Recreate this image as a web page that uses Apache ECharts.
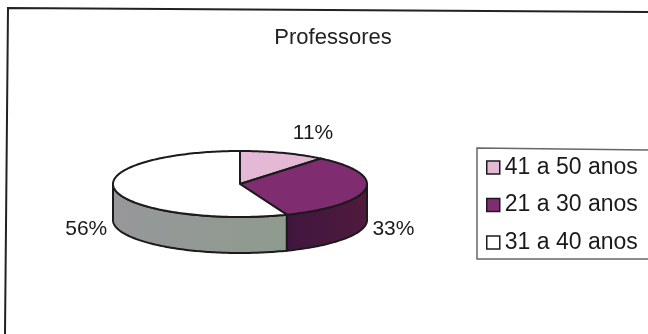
<!DOCTYPE html>
<html><head><meta charset="utf-8">
<style>html,body{margin:0;padding:0;background:#fff}#c{width:648px;height:334px}</style>
<script src="https://cdn.jsdelivr.net/npm/echarts@6/dist/echarts.min.js"></script>
</head><body><div id="c"></div>
<script>
const categories = ['41 a 50 anos', '21 a 30 anos', '31 a 40 anos'];
const values = [11, 33, 56];
const topColors = ['#e3b9d5', '#7f2d70', '#ffffff'];
const sideColors = [
  ['#a88aa0', '#a88aa0'],
  ['#3f1640', '#501a3c'],
  ['#96979a', '#8f9b8e']
];
const labelOffsets = [[30, -20], [28, 40], [-29, 39]];

const chart = echarts.init(document.getElementById('c'), null, {renderer: 'canvas'});
const total = values.reduce((a, b) => a + b, 0);
const CX = 240, CY = 184, RX = 127, RY = 33, DEPTH = 36;
const ink = '#1c1a1c';
const pt = (t, dy) => [CX + RX * Math.sin(t), CY - RY * Math.cos(t) + (dy || 0)];

function arc(a, b, dy) {
  const out = [];
  const n = Math.max(2, Math.ceil((b - a) / 0.02));
  for (let i = 0; i <= n; i++) out.push(pt(a + (b - a) * i / n, dy));
  return out;
}

function makeSeries(idx) {
  const before = values.slice(0, idx).reduce((a, b) => a + b, 0);
  return {
    type: 'custom',
    name: categories[idx],
    coordinateSystem: 'none',
    itemStyle: {color: topColors[idx], borderColor: ink, borderWidth: 1},
    data: [[before, values[idx]]],
    silent: true,
    renderItem: function (params, api) {
      const a = api.value(0) / total * Math.PI * 2;
      const b = a + api.value(1) / total * Math.PI * 2;
      const children = [];
      const sa = Math.max(a, Math.PI / 2), sb = Math.min(b, Math.PI * 1.5);
      if (sb > sa) {
        children.push({
          type: 'polygon',
          shape: {points: arc(sa, sb, 0).concat(arc(sa, sb, DEPTH).reverse())},
          style: {
            fill: new echarts.graphic.LinearGradient(0, 0, 1, 0, [
              {offset: 0, color: sideColors[idx][0]},
              {offset: 1, color: sideColors[idx][1]}
            ]),
            stroke: ink, lineWidth: 2
          }
        });
      }
      children.push({
        type: 'polygon',
        shape: {points: [[CX, CY]].concat(arc(a, b, 0))},
        style: {fill: topColors[idx], stroke: ink, lineWidth: 2}
      });
      const mid = (a + b) / 2;
      const edge = pt(mid, 0);
      children.push({
        type: 'text',
        style: {
          x: edge[0] + labelOffsets[idx][0],
          y: edge[1] + labelOffsets[idx][1],
          text: Math.round(api.value(1) / total * 100) + '%',
          fill: '#1a1a1a',
          font: '21px "Liberation Sans"',
          align: 'center',
          verticalAlign: 'middle'
        }
      });
      return {type: 'group', children: children};
    }
  };
}

chart.setOption({
  animation: false,
  backgroundColor: '#ffffff',
  title: {
    text: 'Professores',
    left: 328, top: 22, textAlign: 'center',
    textStyle: {fontFamily: 'Liberation Sans', fontSize: 22, fontWeight: 'normal', color: '#222'}
  },
  legend: {
    orient: 'vertical',
    left: 486, top: 156,
    data: categories,
    icon: 'rect',
    itemWidth: 13, itemHeight: 13, itemGap: 14.5,
    padding: 0,
    selectedMode: false,
    textStyle: {fontFamily: 'Liberation Sans', fontSize: 23, color: '#1a1a1a'},
    itemStyle: {borderColor: ink, borderWidth: 1.5}
  },
  graphic: [
    {type: 'polyline', shape: {points: [[648, 12], [8, 8], [5, 334]]}, style: {fill: 'none', stroke: '#222', lineWidth: 2}, silent: true},
    {type: 'polyline', shape: {points: [[648, 150], [477, 148], [477, 259], [648, 259]]}, style: {fill: 'none', stroke: '#666', lineWidth: 1.5}, silent: true}
  ],
  series: categories.map((c, i) => makeSeries(i))
});
</script></body></html>
